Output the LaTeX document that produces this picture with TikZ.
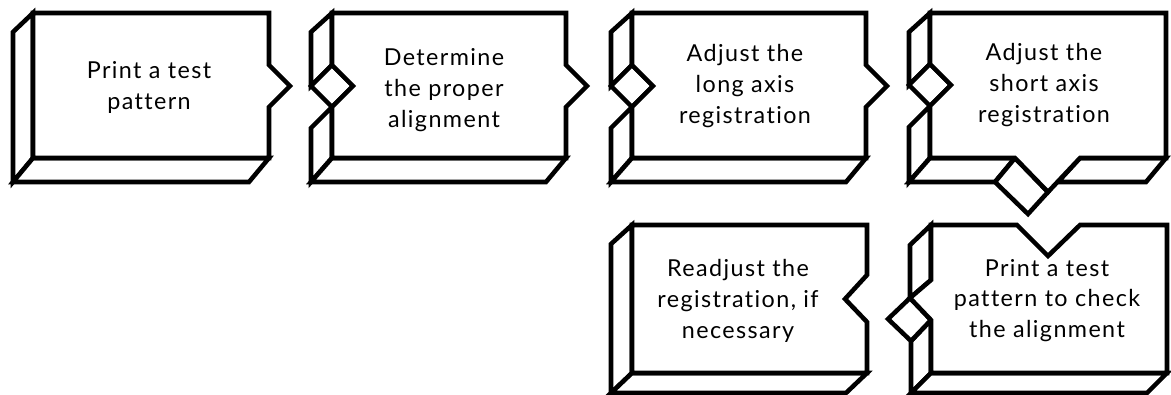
\documentclass[tikz,border=0pt]{standalone}
\usepackage{fontspec}
\setmainfont[LetterSpace=6,Ligatures=NoCommon]{Lato}
\begin{document}
\begin{tikzpicture}[x=0.75pt,y=-0.75pt,
  edge/.style={draw=black,fill=white,line width=3.4pt,line join=miter},
  lbl/.style={font=\fontsize{17.5pt}{23.25pt}\selectfont,align=center,inner sep=0pt,anchor=base}]
\useasboundingbox (0,0) rectangle (1171,395);
% ---------- Box 1
\draw[edge] (33,13)--(13,32)--(13,182)--(33,158)--cycle;
\draw[edge] (33,158)--(269,158)--(249,182)--(13,182)--cycle;
\draw[edge] (33,13)--(269,13)--(269,65)--(290,86)--(269,107)--(269,158)--(33,158)--cycle;
% ---------- Box 2
\draw[edge] (332,13)--(311,32)--(311,86)--(332,65)--cycle;
\draw[edge] (332,107)--(311,128)--(311,182)--(332,158)--cycle;
\draw[edge] (332,158)--(566,158)--(546,182)--(311,182)--cycle;
\draw[edge] (332,65)--(353,86)--(332,107)--(311,86)--cycle;
\draw[edge] (332,13)--(566,13)--(566,65)--(587,86)--(566,107)--(566,158)--(332,158)--(332,107)--(353,86)--(332,65)--cycle;
% ---------- Box 3
\draw[edge] (632,13)--(611,32)--(611,86)--(632,65)--cycle;
\draw[edge] (632,107)--(611,128)--(611,182)--(632,158)--cycle;
\draw[edge] (632,158)--(866,158)--(846,182)--(611,182)--cycle;
\draw[edge] (632,65)--(653,86)--(632,107)--(611,86)--cycle;
\draw[edge] (632,13)--(866,13)--(866,65)--(887,86)--(866,107)--(866,158)--(632,158)--(632,107)--(653,86)--(632,65)--cycle;
% ---------- Box 4
\draw[edge] (930,13)--(909,32)--(909,85)--(930,64)--cycle;
\draw[edge] (930,106)--(909,127)--(909,182)--(930,158)--cycle;
\draw[edge] (930,158)--(1015,158)--(995,182)--(909,182)--cycle;
\draw[edge] (1080,158)--(1166,158)--(1146,182)--(1058,182)--cycle;
\draw[edge] (930,64)--(951,85)--(930,106)--(909,85)--cycle;
\draw[edge] (1015,158)--(1048,192)--(1028,214)--(995,182)--cycle;
\draw[edge] (930,13)--(1166,13)--(1166,158)--(1080,158)--(1048,192)--(1015,158)--(930,158)--(930,106)--(951,85)--(930,64)--cycle;
% ---------- Box 5
\draw[edge] (632,225)--(611,244)--(611,393)--(632,373)--cycle;
\draw[edge] (632,373)--(867,373)--(846,393)--(611,393)--cycle;
\draw[edge] (632,225)--(867,225)--(867,275)--(845,299)--(867,322)--(867,373)--(632,373)--cycle;
% ---------- Box 6
\draw[edge] (931,225)--(910,245)--(910,298)--(931,280)--cycle;
\draw[edge] (911,341)--(911,393)--(931,373)--(931,320)--cycle;
\draw[edge] (931,373)--(1167,373)--(1147,393)--(911,393)--cycle;
\draw[edge] (910,298)--(931,320)--(911,341)--(888,319)--cycle;
\draw[edge] (931,225)--(1017,225)--(1048,256)--(1080,225)--(1167,225)--(1167,373)--(931,373)--(931,320)--(910,298)--(931,280)--cycle;
% ---------- Texts (anchor = baseline of last line)
\node[lbl] (t1) at (149,110) {Print a test\\pattern};
\node[lbl] (t2) at (444,128) {Determine\\the proper\\alignment};
\node[lbl] (t3) at (745,124) {Adjust the\\long axis\\registration};
\node[lbl] (t4) at (1044,123) {Adjust the\\short axis\\registration};
\node[lbl] (t5) at (738,339) {Readjust the\\registration, if\\necessary};
\node[lbl] (t6) at (1047,338) {Print a test\\pattern to check\\the alignment};
\end{tikzpicture}
\end{document}
